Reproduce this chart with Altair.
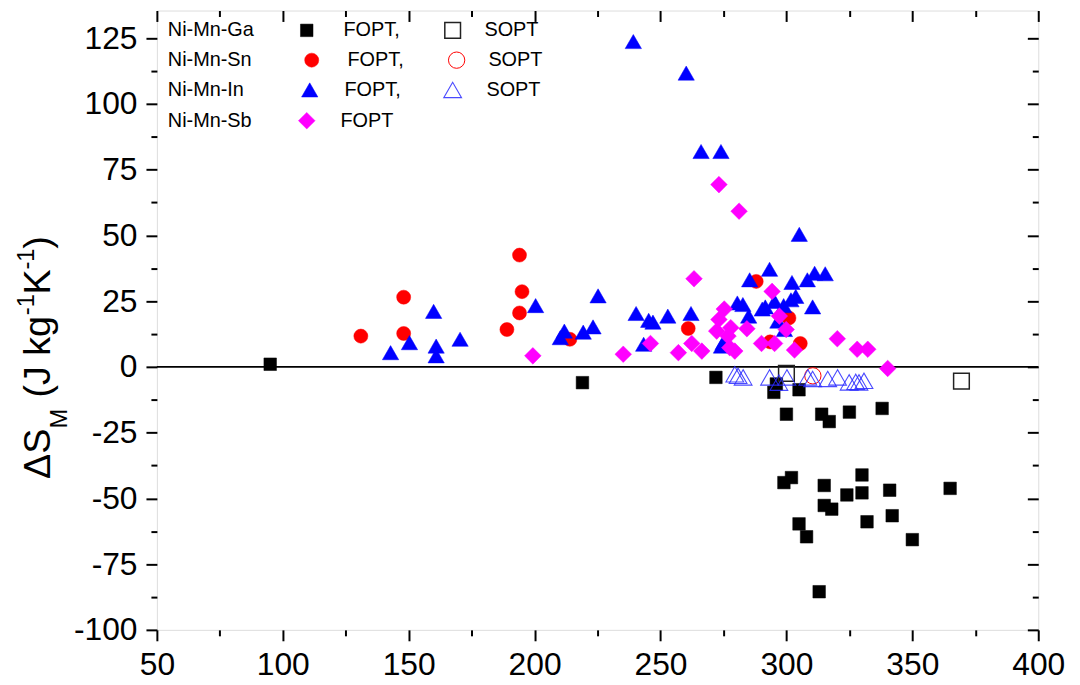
import altair as alt
import pandas as pd

# ---------------- data ----------------
ga_fopt_T = [95, 219, 272, 296, 295, 305, 300, 314, 317, 325, 338, 299, 302, 315, 330,
             324, 330, 341, 365, 315, 318, 305, 308, 332, 342, 350, 313]
ga_fopt_S = [1, -6, -4, -6.5, -9.7, -8.7, -18, -18, -20.8, -17.2, -15.8, -44, -42.1, -45.1, -41.1,
             -48.7, -47.9, -46.9, -46.2, -52.7, -54.1, -59.7, -64.6, -58.9, -56.6, -65.7, -85.5]

ga_sopt_T = [300, 369.5]
ga_sopt_S = [-2.5, -5.4]

sn_fopt_T = [131, 148, 148, 194, 195, 194, 189, 214, 261, 288, 301, 293.5, 305.5]
sn_fopt_S = [11.7, 26.5, 12.7, 42.5, 28.6, 20.5, 14.2, 10.5, 14.6, 32.5, 18.6, 9.5, 8.9]

sn_sopt_T = [310.5]
sn_sopt_S = [-3.4]

in_fopt_T = [142.8, 150.3, 159.9, 160.9, 160.9, 170.4, 200.4, 239.2, 260.2, 266.1, 274, 305.1,
             225.2, 211.8, 210.2, 219.3, 223.2, 240.3, 245.3, 247, 243.3, 252.9, 262.1, 274.2,
             280.5, 282.7, 285.4, 285, 293.3, 291.6, 295.3, 296.6, 302.2, 301.8, 303.7, 308.3,
             311.2, 315.4, 310.4, 298.9, 299.2, 274.9, 290.4]
in_fopt_S = [5.4, 9.2, 21.1, 7.9, 4.2, 10.5, 23.3, 123.7, 111.7, 81.9, 81.9, 50.4,
             27, 13.6, 11.1, 13.2, 15.2, 20.3, 17.7, 17, 8.6, 19.3, 20.3, 7.9,
             24.3, 23.7, 33.1, 19.3, 37.1, 22.8, 24.9, 17.4, 32.1, 25.5, 26.8, 33.1,
             35.6, 35.4, 22.8, 23.3, 14.2, 9.2, 22]

in_sopt_T = [279.5, 280.8, 282.8, 293.3, 300.2, 308.5, 310.4, 316.4, 320.3, 324.9, 327.5, 328.8, 330.8, 297]
in_sopt_S = [-2.8, -3.4, -4, -4, -4, -4, -4.6, -4.6, -4, -5.9, -5.7, -5.9, -5.3, -6]

sb_fopt_T = [199.3, 273.2, 281.2, 235.2, 246, 257.1, 262.4, 266.4, 263.3, 275.3, 273.2, 272.3,
             277.9, 276.8, 277.5, 279.5, 284.3, 290.1, 294.3, 297.2, 299.9, 295.3, 303.2, 320.2,
             328.1, 332.3, 340.2]
sb_fopt_S = [4.2, 69.3, 59.2, 4.8, 8.9, 5.4, 8.9, 6, 33.5, 22, 18, 13.6,
             14.9, 11.7, 7.3, 6, 14.5, 8.9, 28.7, 19.3, 14.2, 8.9, 6.4, 10.7,
             6.7, 6.7, -0.6]

legend_names = ["Ni-Mn-Ga", "Ni-Mn-Sn", "Ni-Mn-In", "Ni-Mn-Sb"]
legend_fopt = ["FOPT,", "FOPT,", "FOPT,", "FOPT"]
legend_sopt = ["SOPT", "SOPT", "SOPT"]

x_major = [50, 100, 150, 200, 250, 300, 350, 400]
x_minor = [75, 125, 175, 225, 275, 325, 375]
y_major = [-100, -75, -50, -25, 0, 25, 50, 75, 100, 125]
y_minor = [-87.5, -62.5, -37.5, -12.5, 12.5, 37.5, 62.5, 87.5, 112.5]

# ---------------- styling ----------------
FONT = "Liberation Sans"
W, H = 888, 624
xs = alt.Scale(domain=[50, 400], nice=False, zero=False)
ys = alt.Scale(domain=[-100, 135.5], nice=False, zero=False)

RED, BLUE, MAG, BLK = "#ff0000", "#0000ff", "#ff00ff", "#000000"


def xaxis(values, size, labels=False, top=False):
    kw = dict(orient="bottom", values=values, tickSize=size, tickWidth=2, tickColor="black",
              domain=False, grid=False, title=None, labels=labels)
    if top:
        kw["offset"] = -H
    if labels:
        kw.update(labelFontSize=32, labelFont=FONT, labelColor="black", labelPadding=9,
                  labelFlush=False, labelOverlap=False, labelExpr="'' + datum.value")
    return alt.Axis(**kw)


def yaxis(values, size, labels=False, right=False):
    kw = dict(orient="left", values=values, tickSize=size, tickWidth=2, tickColor="black",
              domain=False, grid=False, title=None, labels=labels)
    if right:
        kw["offset"] = -W
    if labels:
        kw.update(labelFontSize=32, labelFont=FONT, labelColor="black", labelPadding=9,
                  labelFlush=False, labelOverlap=False, labelExpr="'' + datum.value")
    return alt.Axis(**kw)


def series(T, S, shape, size, color, filled, sw=1.0, op=1.0, xa=None, ya=None):
    df = pd.DataFrame({"T": T, "S": S})
    if filled:
        m = alt.Chart(df).mark_point(shape=shape, size=size, filled=True, fill=color,
                                     stroke=color, strokeWidth=0.5, opacity=1)
    else:
        m = alt.Chart(df).mark_point(shape=shape, size=size, filled=False, stroke=color,
                                     strokeWidth=sw, strokeOpacity=op, fillOpacity=0)
    return m.encode(x=alt.X("T:Q", scale=xs, axis=xa), y=alt.Y("S:Q", scale=ys, axis=ya))


zero = alt.Chart(pd.DataFrame({"z": [0]})).mark_rule(color="black", strokeWidth=2).encode(
    y=alt.Y("z:Q", scale=ys, axis=None))

layers = [
    zero,
    series(ga_fopt_T, ga_fopt_S, "square", 160, BLK, True,
           xa=xaxis(x_major, 11, labels=True), ya=yaxis(y_major, 11, labels=True)),
    series(ga_sopt_T, ga_sopt_S, "square", 250, "#222222", False, sw=1.5,
           xa=xaxis(x_minor, 6), ya=yaxis(y_minor, 6)),
    series(sn_fopt_T, sn_fopt_S, "circle", 200, RED, True,
           xa=xaxis(x_major, 11, top=True), ya=yaxis(y_major, 11, right=True)),
    series(sn_sopt_T, sn_sopt_S, "circle", 270, RED, False, sw=1,
           xa=xaxis(x_minor, 6, top=True), ya=yaxis(y_minor, 6, right=True)),
    series(in_fopt_T, in_fopt_S, "triangle-up", 270, BLUE, True),
    series(in_sopt_T, in_sopt_S, "triangle-up", 320, "#2a2aff", False, sw=1.1, op=0.85),
    series(sb_fopt_T, sb_fopt_S, "diamond", 280, MAG, True),
]

# ---------------- y-axis title (rich text) ----------------
one = pd.DataFrame({"a": [0]})


def txt(s, x, y, size, angle=0, align="left", baseline="alphabetic"):
    return alt.Chart(one).mark_text(text=s, font=FONT, fontSize=size, color="black",
                                    angle=angle, align=align, baseline=baseline).encode(
        x=alt.value(x), y=alt.value(y))


title_pieces = [
    ("\u0394S", -108, 472, 38),
    ("M", -91, 421, 24),
    ("(J kg", -108, 390, 38),
    ("-1", -124, 307, 24),
    ("K", -108, 286, 38),
    ("-1", -124, 261, 24),
    (")", -108, 240, 38),
]
for s, x, y, fs in title_pieces:
    layers.append(txt(s, x, y, fs, angle=270))

# ---------------- legend ----------------
row_y = [20, 50, 80, 111]
sym_x = [151, 156, 154, 151]
fopt_x = [188, 192, 189, 185]
open_x = [298, 302, 298]
sopt_x = [330, 334, 332]
fill_marks = [("square", 160, BLK), ("circle", 200, RED), ("triangle-up", 270, BLUE), ("diamond", 280, MAG)]
open_marks = [("square", 250, "#222222", 1.5, 1.0), ("circle", 270, RED, 1.0, 1.0),
              ("triangle-up", 320, "#2a2aff", 1.1, 0.85)]

LFS = 20
for i, name in enumerate(legend_names):
    layers.append(txt(name, 11, row_y[i], LFS, baseline="middle"))
    shp, sz, col = fill_marks[i]
    layers.append(alt.Chart(one).mark_point(shape=shp, size=sz, filled=True, fill=col, stroke=col,
                                            strokeWidth=0.5, opacity=1).encode(
        x=alt.value(sym_x[i]), y=alt.value(row_y[i])))
    layers.append(txt(legend_fopt[i], fopt_x[i], row_y[i], LFS, baseline="middle"))
for i, lab in enumerate(legend_sopt):
    shp, sz, col, sw, op = open_marks[i]
    layers.append(alt.Chart(one).mark_point(shape=shp, size=sz, filled=False, stroke=col,
                                            strokeWidth=sw, strokeOpacity=op, fillOpacity=0).encode(
        x=alt.value(open_x[i]), y=alt.value(row_y[i])))
    layers.append(txt(lab, sopt_x[i], row_y[i], LFS, baseline="middle"))

chart = alt.layer(*layers).resolve_axis(x="independent", y="independent").properties(
    width=W, height=H,
    padding={"left": 150, "top": 0, "right": 34, "bottom": 52},
    autosize=alt.AutoSizeParams(type="none"),
).configure_view(stroke="black", strokeWidth=2).configure(background="white")

chart.save("out.html", embed_options={"renderer": "svg", "actions": False})
